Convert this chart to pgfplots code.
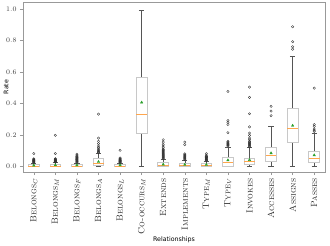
\documentclass[border=0pt]{standalone}
\usepackage{fontspec}
\usepackage{pgfplots}
\pgfplotsset{compat=1.18}
\usepgfplotslibrary{statistics}
\newfontfamily\dejavu{DejaVu Sans}
\definecolor{boxedge}{HTML}{C8C8C8}
\definecolor{whisk}{HTML}{555555}
\definecolor{medorange}{HTML}{FFA64D}
\definecolor{meangreen}{HTML}{2CA02C}
\definecolor{framegray}{HTML}{999999}
\pgfplotsset{
 mybox/.style={
  draw=whisk, line width=0.5pt,
  mark=o, mark size=1.2pt, mark options={draw=black!80, line width=0.35pt, fill=none, solid},
  boxplot/draw direction=y,
  boxplot/box extend=0.5, boxplot/whisker extend=0.25,
  boxplot/every box/.style={draw=boxedge, line width=0.9pt},
  boxplot/every whisker/.style={draw=whisk, line width=0.5pt},
  boxplot/every median/.style={draw=medorange, line width=0.6pt},
 }
}
\begin{document}
\begin{tikzpicture}
\begin{axis}[
 scale only axis, width=302bp, height=170bp,
 xmin=0.5, xmax=14.5, ymin=-0.035, ymax=1.045,
 xtick={1,2,3,4,5,6,7,8,9,10,11,12,13,14},
 xticklabels={\textsc{Belongs}$_C$,\textsc{Belongs}$_M$,\textsc{Belongs}$_F$,\textsc{Belongs}$_A$,\textsc{Belongs}$_L$,\textsc{Co-occurs}$_M$,\textsc{Extends},\textsc{Implements},\textsc{Type}$_M$,\textsc{Type}$_V$,\textsc{Invokes},\textsc{Accesses},\textsc{Assigns},\textsc{Passes}},
 ytick={0,0.2,0.4,0.6,0.8,1.0},
 yticklabel style={/pgf/number format/fixed, /pgf/number format/fixed zerofill, /pgf/number format/precision=1, font=\fontsize{7}{8}\selectfont, text=black!75},
 xticklabel style={rotate=90, anchor=east, font=\fontsize{9}{10}\selectfont, text=black!85},
 tick pos=left, tick align=outside, major tick length=3bp,
 tick style={framegray, line width=0.5pt},
 axis line style={framegray, line width=0.6pt},
 xlabel={Relationships}, ylabel={Rate},
 label style={font=\dejavu\fontsize{6.3}{7}\selectfont},
 xlabel style={at={(axis description cs:0.5,-0.4)}, anchor=center},
 ylabel style={at={(axis description cs:-0.056,0.5)}, anchor=center},
]
% 1 Belongs_C
\addplot[mybox, boxplot prepared={draw position=1, lower whisker=0, lower quartile=0, median=0.003, upper quartile=0.01, upper whisker=0.022}]
 table[row sep=\\, y index=0] {y\\0.025\\0.027\\0.029\\0.031\\0.033\\0.035\\0.037\\0.039\\0.041\\0.043\\0.046\\0.049\\0.082\\};
% 2 Belongs_M
\addplot[mybox, boxplot prepared={draw position=2, lower whisker=0, lower quartile=0, median=0.004, upper quartile=0.012, upper whisker=0.025}]
 table[row sep=\\, y index=0] {y\\0.027\\0.029\\0.031\\0.033\\0.035\\0.037\\0.039\\0.041\\0.044\\0.047\\0.05\\0.082\\0.198\\};
% 3 Belongs_F
\addplot[mybox, boxplot prepared={draw position=3, lower whisker=0, lower quartile=0, median=0.003, upper quartile=0.01, upper whisker=0.022}]
 table[row sep=\\, y index=0] {y\\0.025\\0.028\\0.031\\0.034\\0.037\\0.04\\0.043\\0.046\\0.049\\0.052\\0.055\\0.058\\0.061\\0.065\\0.072\\0.078\\};
% 4 Belongs_A
\addplot[mybox, boxplot prepared={draw position=4, lower whisker=0, lower quartile=0.006, median=0.023, upper quartile=0.049, upper whisker=0.082}]
 table[row sep=\\, y index=0] {y\\0.088\\0.092\\0.097\\0.103\\0.11\\0.12\\0.13\\0.145\\0.16\\0.18\\0.333\\};
% 5 Belongs_L
\addplot[mybox, boxplot prepared={draw position=5, lower whisker=0, lower quartile=0, median=0.003, upper quartile=0.01, upper whisker=0.022}]
 table[row sep=\\, y index=0] {y\\0.025\\0.027\\0.029\\0.031\\0.033\\0.035\\0.037\\0.039\\0.041\\0.044\\0.047\\0.05\\0.054\\0.103\\};
% 6 Co-occurs_M
\addplot[mybox, boxplot prepared={draw position=6, lower whisker=0, lower quartile=0.209, median=0.333, upper quartile=0.568, upper whisker=0.99}]
 coordinates {};
% 7 Extends
\addplot[mybox, boxplot prepared={draw position=7, lower whisker=0, lower quartile=0.002, median=0.008, upper quartile=0.023, upper whisker=0.045}]
 table[row sep=\\, y index=0] {y\\0.05\\0.054\\0.058\\0.062\\0.066\\0.07\\0.074\\0.078\\0.082\\0.086\\0.09\\0.094\\0.098\\0.102\\0.106\\0.11\\0.12\\0.13\\0.14\\0.155\\0.17\\};
% 8 Implements
\addplot[mybox, boxplot prepared={draw position=8, lower whisker=0, lower quartile=0.001, median=0.006, upper quartile=0.02, upper whisker=0.04}]
 table[row sep=\\, y index=0] {y\\0.043\\0.047\\0.051\\0.055\\0.059\\0.063\\0.067\\0.071\\0.075\\0.08\\0.139\\0.155\\};
% 9 Type_M
\addplot[mybox, boxplot prepared={draw position=9, lower whisker=0, lower quartile=0.001, median=0.006, upper quartile=0.018, upper whisker=0.035}]
 table[row sep=\\, y index=0] {y\\0.038\\0.041\\0.044\\0.047\\0.05\\0.053\\0.056\\0.059\\0.062\\0.065\\0.072\\0.082\\};
% 10 Type_V
\addplot[mybox, boxplot prepared={draw position=10, lower whisker=0, lower quartile=0.003, median=0.027, upper quartile=0.055, upper whisker=0.125}]
 table[row sep=\\, y index=0] {y\\0.13\\0.134\\0.138\\0.142\\0.145\\0.15\\0.155\\0.16\\0.215\\0.266\\0.28\\0.292\\0.477\\};
% 11 Invokes
\addplot[mybox, boxplot prepared={draw position=11, lower whisker=0, lower quartile=0.01, median=0.03, upper quartile=0.049, upper whisker=0.12}]
 table[row sep=\\, y index=0] {y\\0.125\\0.13\\0.135\\0.14\\0.145\\0.15\\0.155\\0.16\\0.17\\0.18\\0.198\\0.213\\0.252\\0.335\\0.439\\0.504\\};
% 12 Accesses
\addplot[mybox, boxplot prepared={draw position=12, lower whisker=0, lower quartile=0.029, median=0.07, upper quartile=0.118, upper whisker=0.253}]
 table[row sep=\\, y index=0] {y\\0.323\\0.352\\0.382\\};
% 13 Assigns
\addplot[mybox, boxplot prepared={draw position=13, lower whisker=0, lower quartile=0.15, median=0.245, upper quartile=0.371, upper whisker=0.70}]
 table[row sep=\\, y index=0] {y\\0.745\\0.761\\0.793\\0.888\\};
% 14 Passes
\addplot[mybox, boxplot prepared={draw position=14, lower whisker=0, lower quartile=0.023, median=0.055, upper quartile=0.097, upper whisker=0.213}]
 table[row sep=\\, y index=0] {y\\0.223\\0.23\\0.238\\0.255\\0.266\\0.498\\};
% means
\addplot[only marks, mark=triangle*, mark size=1.4pt, color=meangreen]
 coordinates {(1,0.007) (2,0.009) (3,0.008) (4,0.03) (5,0.008) (6,0.407) (7,0.013) (8,0.012) (9,0.011) (10,0.04) (11,0.042) (12,0.085) (13,0.26) (14,0.072)};
\end{axis}
\pgfresetboundingbox
\path[use as bounding box] ([shift={(-23bp,-74bp)}]current axis.south west) rectangle ([shift={(5bp,2bp)}]current axis.north east);
\end{tikzpicture}
\end{document}
